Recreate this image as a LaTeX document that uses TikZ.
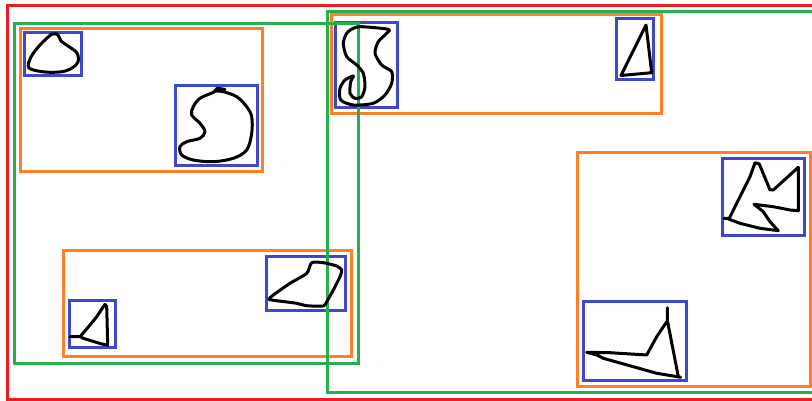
\documentclass[tikz,border=0pt]{standalone}
\definecolor{pred}{HTML}{ED1C24}
\definecolor{pgreen}{HTML}{22B14C}
\definecolor{porange}{HTML}{FF7F27}
\definecolor{pblue}{HTML}{3F48CC}
\tikzset{
  redbox/.style={draw=pred,line width=3pt},
  greenbox/.style={draw=pgreen,line width=3pt},
  orangebox/.style={draw=porange,line width=3pt},
  bluebox/.style={draw=pblue,line width=3pt},
  ink/.style={draw=black,line width=3pt,line join=round,line cap=round}
}
\begin{document}
\begin{tikzpicture}[x=1pt,y=-1pt]
\useasboundingbox (0,0) rectangle (812,401);
\fill[white] (0,0) rectangle (812,401);
\clip (0,0) rectangle (812,401);
% red
\draw[redbox] (7.5,5.5) rectangle (815,399.5);
% orange
\draw[orangebox] (20,29) rectangle (262,171.5);
\draw[orangebox] (331,15) rectangle (661.5,114);
\draw[orangebox] (577.5,152.5) rectangle (810,386.5);
\draw[orangebox] (63,250.5) rectangle (351,356.5);
% blue
\draw[bluebox] (24.5,32.5) rectangle (81.5,76);
\draw[bluebox] (175.5,85.5) rectangle (257,165.5);
\draw[bluebox] (335,22.5) rectangle (397,108);
\draw[bluebox] (616,19) rectangle (653,80);
\draw[bluebox] (722,158.5) rectangle (804,235.5);
\draw[bluebox] (583.5,301.5) rectangle (686,380.5);
\draw[bluebox] (69,300.5) rectangle (115.5,347.5);
\draw[bluebox] (266.5,256) rectangle (345,310);
% green
\draw[greenbox] (14,23.5) rectangle (358,363);
\draw[greenbox] (327.5,11.5) rectangle (815,392.5);
% black shapes
\draw[ink] plot[smooth cycle,tension=0.55] coordinates{(51.7,34.3) (40,45) (31,57) (29,68) (45,72) (62,71.7) (72,68) (78,62) (77,53) (68,46) (61,41) (58,35)};
\draw[ink] plot[smooth,tension=0.55] coordinates{(225,89.5) (217,88.5) (214,92) (200,98.3) (193.3,106.7) (191.7,115) (200,123.3) (205,131.7) (200,138.3) (186.7,141.7) (180,146.7) (181.7,155) (193.3,160) (213.3,161.7) (233.3,158.3) (246.7,150) (251.7,133.3) (251.7,116.7) (246.7,106.7) (236.7,96.7) (223.3,91.7) (215,91)};
\draw[ink] plot[smooth cycle,tension=0.45] coordinates{(361.7,26.7) (388.3,29.3) (386.7,33.3) (378.3,41.7) (375,53.3) (381.7,65) (391.7,71.7) (391.7,83.3) (385,95) (373.3,103.3) (353.3,105) (340.7,100) (340,88.3) (345,80) (353.3,76) (350.7,81.7) (350,93.3) (355,98.3) (361.7,96.7) (365,86.7) (363.3,73.3) (356.7,65) (346.7,56.7) (343.3,43.3) (346.7,33.3) (353.3,28.3)};
\draw[ink] (646,25) -- (621,75.5) -- (651.7,72.7) -- cycle;
\draw[ink] (724,218.3) -- (729.3,218.3) -- (740,196.7) -- (750,176.7) -- (755,162.7) -- (759.3,164) -- (770,190) -- (773.3,190) -- (798.3,167.3) -- (798.3,210.7) -- (790,210) -- (773.3,206.7) -- (754,204.3) -- (763.3,211.7) -- (770,221.7) -- (778.3,230.7) -- (760,228.3) -- (740,223.3) -- (728.3,219);
\draw[ink] (667.3,307.7) -- (667.3,320) -- (678.3,376.7) -- (680.7,377.3) -- (656.7,373.3) -- (633.3,366.7) -- (603.3,358.3) -- (596.7,355) -- (586.7,352.3) -- (610,352.7) -- (646.7,355) -- (656.7,336.7) -- (666.7,321.7);
\draw[ink] (105,304.3) -- (106.7,306.7) -- (107.7,345) -- (101.7,344) -- (83.3,338.3) -- (80,336.7) -- (70,336.7);
\draw[ink] (80,336.7) -- (90,325) -- (96.7,316.7) -- (105,304.3);
\draw[ink] plot[smooth cycle,tension=0.4] coordinates{(311.7,262.7) (323.3,262.7) (336.7,266) (341.7,270) (340,276.7) (333.3,290) (326.7,301.7) (323.3,306) (306.7,305.7) (296.7,303.3) (276.7,300.7) (269,299.3) (273.3,295) (290,283.3) (306.7,273.3)};
\end{tikzpicture}
\end{document}
